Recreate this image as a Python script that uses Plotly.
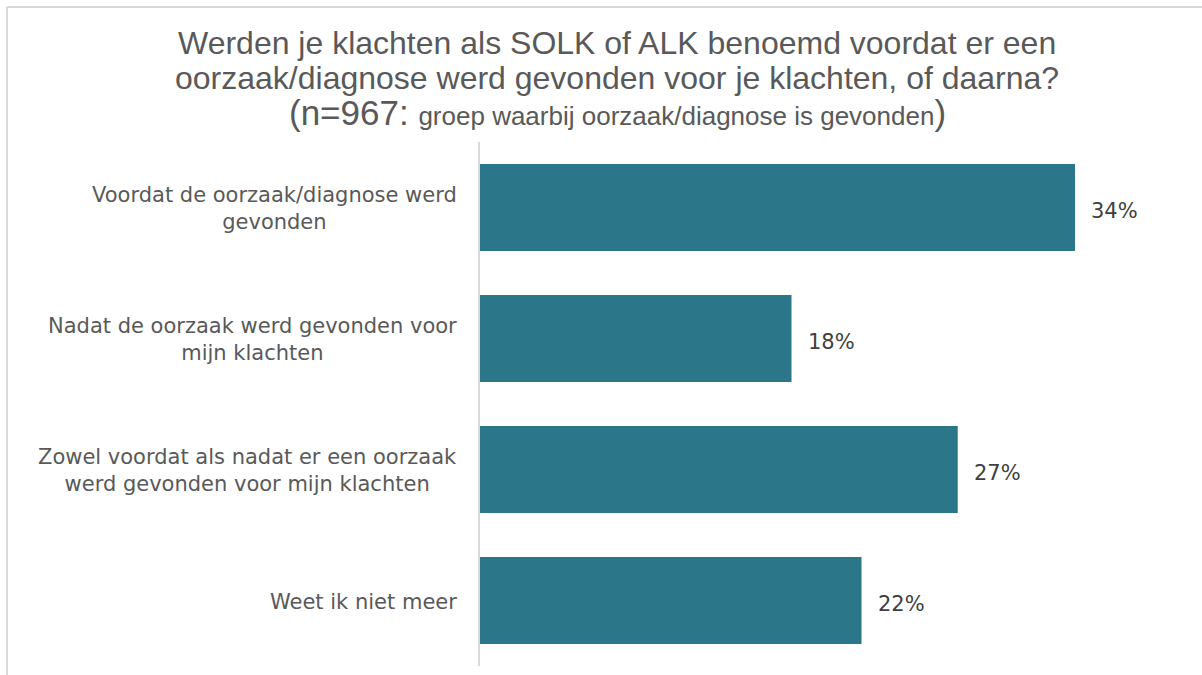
import plotly.graph_objects as go

categories = [
    "Voordat de oorzaak/diagnose werd<br>gevonden",
    "Nadat de oorzaak werd gevonden voor<br>mijn klachten",
    "Zowel voordat als nadat er een oorzaak<br>werd gevonden voor mijn klachten",
    "Weet ik niet meer",
]
values = [34.0, 17.8, 27.3, 21.8]
value_labels = ["34%", "18%", "27%", "22%"]
title_lines = [
    "Werden je klachten als SOLK of ALK benoemd voordat er een",
    "oorzaak/diagnose werd gevonden voor je klachten, of daarna?",
    "(n=967: <span style='font-size:26px'>groep waarbij oorzaak/diagnose is gevonden</span>)",
]

W, H = 1202, 675
ML, MR, MT, MB = 480, 22, 142, 9
PW = W - ML - MR
PH = H - MT - MB


def px_x(px):
    return (px - ML) / PW


def px_y(py):
    return 1 - (py - MT) / PH


fig = go.Figure()
fig.add_trace(go.Bar(
    x=values, y=categories, orientation="h",
    marker=dict(color="#2B7689", line=dict(width=0)),
    hoverinfo="skip",
))

ann = []
LBL_FONT = dict(family="DejaVu Sans", size=21, color="#595959")
for c in categories:
    ann.append(dict(x=0, y=c, xref="paper", yref="y", text=c, showarrow=False,
                    xanchor="right", yanchor="middle", align="center", xshift=-21,
                    yshift=-1, font=LBL_FONT))
for v, t, c in zip(values, value_labels, categories):
    ann.append(dict(x=v, y=c, xref="x", yref="y", text=t, showarrow=False,
                    xanchor="left", yanchor="middle", xshift=14, yshift=-3,
                    font=dict(family="DejaVu Sans", size=21, color="#404040")))

title_sizes = [32, 32, 35]
title_centers = [43, 78, 113]
for line, sz, cy in zip(title_lines, title_sizes, title_centers):
    ann.append(dict(x=px_x(617), y=px_y(cy), xref="paper", yref="paper",
                    text=line, showarrow=False, xanchor="center", yanchor="middle",
                    font=dict(family="Liberation Sans", size=sz, color="#595959")))

shapes = [
    dict(type="line", xref="paper", yref="paper",
         x0=px_x(7), x1=px_x(W), y0=px_y(7), y1=px_y(7),
         line=dict(color="#D9D9D9", width=2)),
    dict(type="line", xref="paper", yref="paper",
         x0=px_x(7), x1=px_x(7), y0=px_y(H), y1=px_y(7),
         line=dict(color="#D9D9D9", width=2)),
]

fig.update_layout(
    width=W, height=H,
    margin=dict(l=ML, r=MR, t=MT, b=MB),
    paper_bgcolor="white", plot_bgcolor="white",
    showlegend=False,
    bargap=0.336,
    xaxis=dict(range=[0, 40], visible=False, fixedrange=True),
    yaxis=dict(categoryorder="array", categoryarray=categories[::-1],
               showticklabels=False, showline=True, linecolor="#D9D9D9", linewidth=2,
               showgrid=False, ticks="", zeroline=False, fixedrange=True),
    annotations=ann,
    shapes=shapes,
)

fig.write_html("out.html", config={"displayModeBar": False},
               post_script="document.body.style.margin='0';")
